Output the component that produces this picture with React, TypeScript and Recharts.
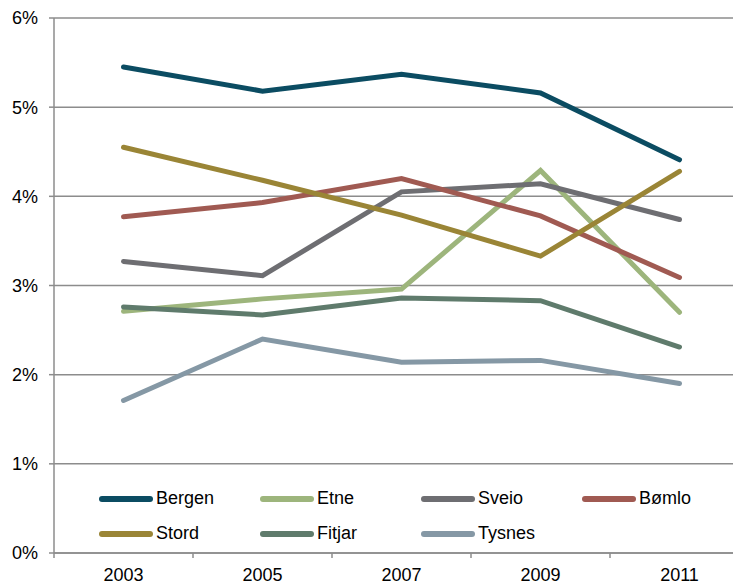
import { CartesianGrid, Line, LineChart, XAxis, YAxis } from 'recharts'

const years = [2003, 2005, 2007, 2009, 2011]
const yTicks = [0, 0.01, 0.02, 0.03, 0.04, 0.05, 0.06]

const bergen = [0.0545, 0.0518, 0.0537, 0.0516, 0.0441]
const etne = [0.0271, 0.0285, 0.0296, 0.0429, 0.027]
const sveio = [0.0327, 0.0311, 0.0405, 0.0414, 0.0374]
const bomlo = [0.0377, 0.0393, 0.042, 0.0378, 0.0309]
const stord = [0.0455, 0.0418, 0.0379, 0.0333, 0.0428]
const fitjar = [0.0276, 0.0267, 0.0286, 0.0283, 0.0231]
const tysnes = [0.0171, 0.024, 0.0214, 0.0216, 0.019]

const series = [
  { key: 'Bergen', values: bergen, color: '#0b4c62' },
  { key: 'Etne', values: etne, color: '#9db57c' },
  { key: 'Sveio', values: sveio, color: '#6e6e72' },
  { key: 'Bømlo', values: bomlo, color: '#a05a52' },
  { key: 'Stord', values: stord, color: '#9a8536' },
  { key: 'Fitjar', values: fitjar, color: '#5f7b6c' },
  { key: 'Tysnes', values: tysnes, color: '#8598a5' },
]

const data = years.map((year, i) => {
  const row: Record<string, number> = { year }
  for (const s of series) row[s.key] = s.values[i]
  return row
})

const FONT = 'Liberation Sans, Arial, sans-serif'
const GRID = '#8c8c8c'

function YearTick(props: any) {
  const { x, y, payload } = props
  const axisY = y - 8
  return (
    <g>
      <line x1={x - 69.5} x2={x - 69.5} y1={axisY} y2={axisY + 5} stroke={GRID} strokeWidth={1.5} />
      <text x={x} y={axisY} dy={28} textAnchor="middle" fontSize={18} fontFamily={FONT} fill="#000">
        {payload.value}
      </text>
    </g>
  )
}

// legend drawn over the plot, like the original
function LegendBox() {
  return (
    <div
      style={{
        position: 'absolute',
        left: 99,
        top: 481,
        display: 'flex',
        flexWrap: 'wrap',
        width: 650,
        fontFamily: FONT,
        fontSize: 18,
        color: '#000',
      }}
    >
      {series.map((s) => (
        <div key={s.key} style={{ width: 161, height: 35, display: 'flex', alignItems: 'center' }}>
          <span style={{ display: 'inline-block', width: 54, height: 6, borderRadius: 3, background: s.color, marginRight: 3 }} />
          <span>{s.key}</span>
        </div>
      ))}
    </div>
  )
}

export default function App() {
  return (
    <div
      style={{
        position: 'relative',
        marginLeft: -8,
        marginTop: -8,
        width: 741,
        height: 585,
        overflow: 'hidden',
        background: '#fff',
      }}
    >
      <LineChart width={760} height={585} data={data} margin={{ top: 18, right: 11, left: 0, bottom: 0 }}>
        <CartesianGrid vertical={false} stroke={GRID} strokeWidth={1.5} />
        <XAxis
          dataKey="year"
          type="number"
          domain={[2002, 2012]}
          ticks={years}
          height={32}
          tickLine={false}
          axisLine={{ stroke: GRID, strokeWidth: 1.5 }}
          tick={<YearTick />}
        />
        <YAxis
          domain={[0, 0.06]}
          ticks={yTicks}
          width={54}
          tickSize={5}
          tickMargin={11}
          tickLine={{ stroke: GRID, strokeWidth: 1.5 }}
          axisLine={{ stroke: GRID, strokeWidth: 1.5 }}
          tickFormatter={(v: number) => `${Math.round(v * 100)}%`}
          tick={{ fill: '#000', fontSize: 18, fontFamily: FONT }}
        />
        {series.map((s) => (
          <Line
            key={s.key}
            dataKey={s.key}
            stroke={s.color}
            strokeWidth={5}
            strokeLinecap="round"
            dot={false}
            activeDot={false}
            isAnimationActive={false}
          />
        ))}
      </LineChart>
      <LegendBox />
    </div>
  )
}
